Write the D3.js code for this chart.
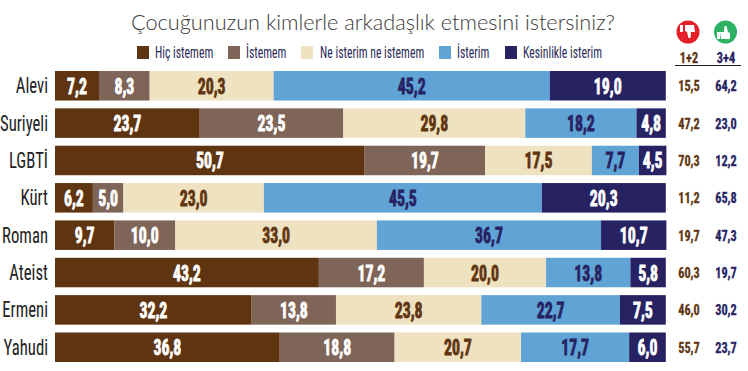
<!DOCTYPE html>
<html><head><meta charset="utf-8">
<script src="https://cdn.jsdelivr.net/npm/d3@7/dist/d3.min.js"></script>
<style>html,body{margin:0;background:#fff}svg{display:block}</style></head>
<body><svg id="c" width="748" height="371"></svg>
<script>
const titleText = "Çocuğunuzun kimlerle arkadaşlık etmesini istersiniz?";
const categories = ["Alevi","Suriyeli","LGBTİ","Kürt","Roman","Ateist","Ermeni","Yahudi"];
const seriesNames = ["Hiç istemem","İstemem","Ne isterim ne istemem","İsterim","Kesinlikle isterim"];
const hicIstemem = [7.2,23.7,50.7,6.2,9.7,43.2,32.2,36.8];
const istemem = [8.3,23.5,19.7,5.0,10.0,17.2,13.8,18.8];
const neNe = [20.3,29.8,17.5,23.0,33.0,20.0,23.8,20.7];
const isterim = [45.2,18.2,7.7,45.5,36.7,13.8,22.7,17.7];
const kesinlikle = [19.0,4.8,4.5,20.3,10.7,5.8,7.5,6.0];
const sum12 = ["15,5","47,2","70,3","11,2","19,7","60,3","46,0","55,7"];
const sum34 = ["64,2","23,0","12,2","65,8","47,3","19,7","30,2","23,7"];
const colors = ["#5f3511","#7f6558","#efe2c0","#60a4d6","#272262"];
const labelColors = ["#fff","#fff","#5f3511","#272262","#fff"];
const series = [hicIstemem,istemem,neNe,isterim,kesinlikle];

const svg = d3.select("#c");
const narrow = "'Liberation Sans Narrow','Roboto Condensed',Roboto,sans-serif";
function txt(x,y,s,o){
  return svg.append("text").attr("transform",`translate(${x},${y}) scale(${o.sx||1},1)`)
    .attr("text-anchor",o.anchor||"middle").attr("font-family",o.font||narrow)
    .attr("font-size",o.size).attr("font-weight",o.weight||400).attr("fill",o.fill||"#222")
    .attr("stroke",o.stroke||"none").attr("stroke-width",o.sw||0).text(s);
}
const x = d3.scaleLinear().domain([0,100]).range([55,665.8]);
const y = d3.scaleBand().domain(categories).range([71,362]).paddingInner(0.21).paddingOuter(0);

txt(373,30,titleText,{size:21.7,font:"Lato,sans-serif",weight:300,fill:"#3a3a3a"});

const legendX = [137,228,301,439,505];
const legendTextX = [155,246,320,457,523];
seriesNames.forEach((n,i)=>{
  svg.append("rect").attr("x",legendX[i]).attr("y",46).attr("width",12).attr("height",13).attr("fill",colors[i]);
  txt(legendTextX[i],58,n,{anchor:"start",size:17,sx:0.69,fill:"#2a2a5a"});
});

categories.forEach((c,r)=>{
  let acc=0;
  series.forEach((s,i)=>{
    const v=s[r];
    svg.append("rect").attr("x",x(acc)).attr("y",y(c)).attr("width",x(acc+v)-x(acc)).attr("height",y.bandwidth()).attr("fill",colors[i]);
    txt((x(acc)+x(acc+v))/2,y(c)+y.bandwidth()/2+8,v.toFixed(1).replace(".",","),
      {size:22,weight:700,sx:0.72,fill:labelColors[i],stroke:labelColors[i],sw:0.8});
    acc+=v;
  });
  txt(48,y(c)+y.bandwidth()/2+7.5,c,{anchor:"end",size:22,sx:0.76,fill:"#222"});
  txt(689,y(c)+y.bandwidth()/2+5.5,sum12[r],{size:15,weight:700,sx:0.82,fill:"#5f3511",stroke:"#5f3511",sw:0.3});
  txt(726,y(c)+y.bandwidth()/2+5.5,sum34[r],{size:15,weight:700,sx:0.82,fill:"#272262",stroke:"#272262",sw:0.3});
});

txt(689,63,"1+2",{size:15,weight:700,sx:0.82,fill:"#5f3511",stroke:"#5f3511",sw:0.3});
txt(726,63,"3+4",{size:15,weight:700,sx:0.82,fill:"#272262",stroke:"#272262",sw:0.3});
svg.append("line").attr("x1",675).attr("x2",741).attr("y1",65.5).attr("y2",65.5).attr("stroke","#222").attr("stroke-width",1);

// icons
svg.append("circle").attr("cx",688).attr("cy",32).attr("r",11.5).attr("fill","#e32027");
svg.append("circle").attr("cx",725.5).attr("cy",32).attr("r",11.5).attr("fill","#2eb163");
const hand = d3.path();
hand.moveTo(-4,-6);hand.lineTo(5,-6);hand.lineTo(6,1);hand.lineTo(2,1);hand.lineTo(1.5,7);hand.lineTo(-0.5,7);hand.lineTo(-2,1);hand.lineTo(-4,0);hand.closePath();
svg.append("path").attr("d",hand.toString()).attr("transform","translate(689,31)").attr("fill","#fff");
svg.append("rect").attr("x",680).attr("y",25).attr("width",3).attr("height",7).attr("fill","#fff");
svg.append("path").attr("d",hand.toString()).attr("transform","translate(726,33) rotate(180)").attr("fill","#fff");
svg.append("rect").attr("x",717).attr("y",32).attr("width",3).attr("height",7).attr("fill","#fff");
</script></body></html>
